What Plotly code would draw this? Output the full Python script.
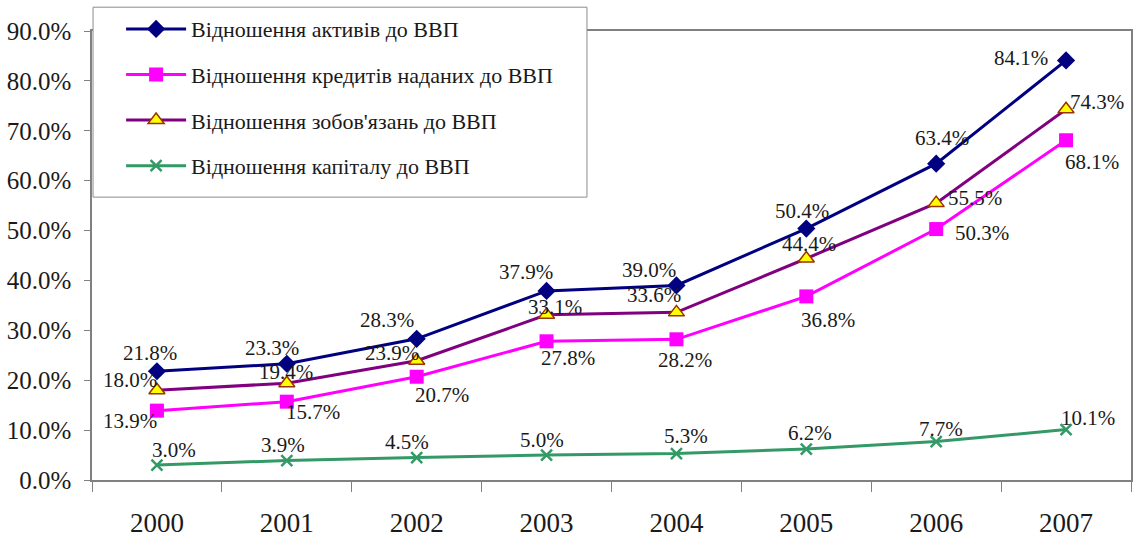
import plotly.graph_objects as go

years = ["2000", "2001", "2002", "2003", "2004", "2005", "2006", "2007"]

assets = [21.8, 23.3, 28.3, 37.9, 39.0, 50.4, 63.4, 84.1]
credits = [13.9, 15.7, 20.7, 27.8, 28.2, 36.8, 50.3, 68.1]
liabilities = [18.0, 19.4, 23.9, 33.1, 33.6, 44.4, 55.5, 74.3]
capital = [3.0, 3.9, 4.5, 5.0, 5.3, 6.2, 7.7, 10.1]

names = [
    "Відношення активів до ВВП",
    "Відношення кредитів наданих до ВВП",
    "Відношення зобов'язань до ВВП",
    "Відношення капіталу до ВВП",
]

# label offsets in pixels (dx, dy with dy downward)
off_assets = [(-7, -18), (-15, -16), (-30, -19), (-21, -19), (-27, -15), (-4, -18), (6, -26), (-45, -2)]
off_credits = [(-27, 10), (26, 10), (25, 18), (21, 17), (9, 21), (22, 24), (46, 4), (26, 22)]
off_liab = [(-27, -10), (-1, -11), (-25, -8), (8, -8), (-22, -17), (3, -14), (39, -5), (31, -7)]
off_cap = [(17, -15), (-4, -16), (-10, -16), (-5, -15), (10, -18), (4, -16), (5, -13), (22, -12)]

FONT = "Liberation Serif, Times New Roman, serif"

series = [
    (assets, names[0], dict(color="#000080", width=3),
     dict(symbol="diamond", size=14, color="#000080"), off_assets),
    (credits, names[1], dict(color="#FF00FF", width=3),
     dict(symbol="square", size=14, color="#FF00FF"), off_credits),
    (liabilities, names[2], dict(color="#800080", width=3),
     dict(symbol="triangle-up", size=14, color="#FFFF00", line=dict(color="#993300", width=1.5)), off_liab),
    (capital, names[3], dict(color="#339966", width=3),
     dict(symbol="x-thin", size=11, color="#339966", line=dict(color="#339966", width=2.5)), off_cap),
]

fig = go.Figure()
annotations = []
for i, (vals, name, line, marker, offs) in enumerate(series):
    fig.add_trace(go.Scatter(
        x=years, y=vals, name=name, mode="lines+markers",
        line=line, marker=marker, legendgroup=f"g{i}",
    ))
    for k, (v, (dx, dy)) in enumerate(zip(vals, offs)):
        annotations.append(dict(
            x=k, y=v, xref="x", yref="y", text=f"{v:.1f}%", showarrow=False,
            xshift=dx, yshift=-dy,
            font=dict(family=FONT, size=21, color="#1a1a1a"),
        ))

fig.update_layout(
    width=1134, height=539,
    margin=dict(l=92, r=3, t=31, b=59, autoexpand=False),
    paper_bgcolor="white", plot_bgcolor="white",
    showlegend=True,
    legend=dict(
        x=0.028, y=1.051, xanchor="left", yanchor="top",
        bgcolor="rgba(0,0,0,0)", borderwidth=0,
        font=dict(family=FONT, size=22, color="#1a1a1a"),
        tracegroupgap=14, itemwidth=60,
    ),
    shapes=[dict(
        type="rect", xref="paper", yref="paper",
        x0=0.001, x1=0.4764, y0=0.630, y1=1.053,
        line=dict(color="#8c8c8c", width=1), fillcolor="white", layer="above",
    )],
    annotations=annotations,
)
fig.update_xaxes(
    type="category", range=[-0.5, 7.5], autorange=False,
    tickson="boundaries", ticks="outside", ticklen=10,
    tickcolor="#808080", showline=True, linecolor="#808080", linewidth=1.5,
    mirror=True, showgrid=False, ticklabelstandoff=18, tickangle=0,
    tickfont=dict(family=FONT, size=27, color="#1a1a1a"),
)
fig.update_yaxes(
    range=[0, 90], autorange=False, dtick=10, tickformat=".1f", ticksuffix="%",
    ticks="outside", ticklen=6, tickcolor="#808080",
    showline=True, linecolor="#808080", linewidth=1.5, mirror=True,
    showgrid=False, zeroline=False, ticklabelstandoff=8,
    tickfont=dict(family=FONT, size=25, color="#1a1a1a"),
)

fig.write_html(
    "out.html",
    config={"displayModeBar": False},
    post_script="document.body.style.margin='0px';document.body.style.overflow='hidden';",
)
